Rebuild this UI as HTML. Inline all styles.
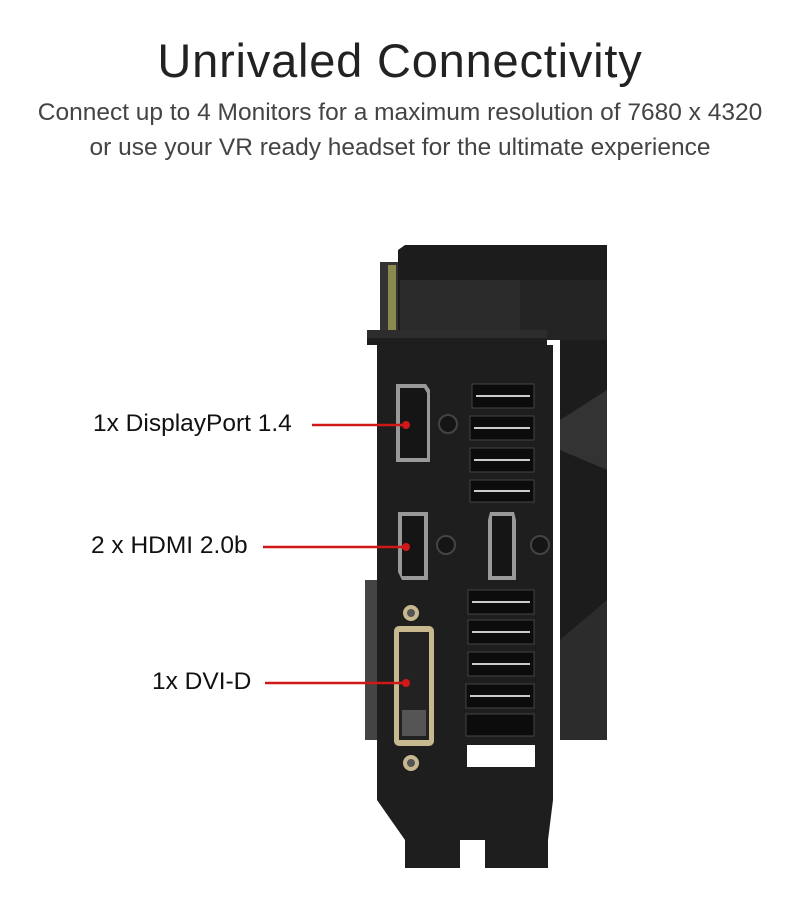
<!DOCTYPE html>
<html><head><style>
body{margin:0;background:#fff;width:800px;height:913px;overflow:hidden;position:relative;font-family:"Liberation Sans",sans-serif}
.a{position:absolute}
.t{left:0;width:800px;text-align:center;white-space:nowrap}
.lbl{font-size:24.5px;color:#111;white-space:nowrap}
</style></head><body>
<div class="a t" style="top:33px;font-size:47px;color:#222;letter-spacing:0.8px">Unrivaled Connectivity</div>
<div class="a t" style="top:99px;font-size:24.5px;color:#444">Connect up to 4 Monitors for a maximum resolution of 7680 x 4320</div>
<div class="a t" style="top:134px;font-size:24.5px;color:#444">or use your VR ready headset for the ultimate experience</div>

<svg class="a" style="left:0;top:0" width="800" height="913">
<polygon points="398,250 405,245 607,245 607,740 560,740 560,330 398,330" fill="#1c1c1c"/>
<rect x="400" y="280" width="120" height="50" fill="#2a2a2a"/>
<rect x="520" y="280" width="87" height="60" fill="#242424"/>
<polygon points="560,420 607,390 607,470 560,450" fill="#333"/>
<polygon points="560,640 607,600 607,740 560,740" fill="#2c2c2c"/>
<rect x="380" y="262" width="18" height="70" fill="#333"/>
<rect x="388" y="265" width="8" height="65" fill="#8a8a50"/>
<rect x="365" y="580" width="12" height="160" fill="#444"/>
<polygon points="367,330 547,330 547,345 553,345 553,800 548,840 548,868 485,868 485,840 460,840 460,868 405,868 405,840 377,800 377,345 367,345" fill="#1e1e1e"/>
<rect x="367" y="330" width="180" height="8" fill="#2d2d2d"/>
<polygon points="396,384 426,384 430,390 430,462 396,462" fill="#999"/>
<polygon points="400,388 424,388 427,393 427,458 400,458" fill="#151515"/>
<polygon points="398,512 428,512 428,580 402,580 398,572" fill="#999"/>
<rect x="402" y="516" width="22" height="60" fill="#151515"/>
<polygon points="490,512 514,512 516,520 516,580 488,580 488,520" fill="#999"/>
<rect x="492" y="516" width="20" height="60" fill="#151515"/>
<circle cx="448" cy="424" r="9" fill="#151515" stroke="#444" stroke-width="2"/>
<circle cx="446" cy="545" r="9" fill="#151515" stroke="#444" stroke-width="2"/>
<circle cx="540" cy="545" r="9" fill="#151515" stroke="#444" stroke-width="2"/>
<circle cx="411" cy="613" r="8" fill="#c8b890"/><circle cx="411" cy="613" r="4" fill="#555"/>
<circle cx="411" cy="763" r="8" fill="#c8b890"/><circle cx="411" cy="763" r="4" fill="#555"/>
<rect x="394" y="626" width="40" height="120" rx="5" fill="#c8b890"/>
<rect x="399" y="632" width="30" height="108" fill="#222"/>
<rect x="402" y="710" width="24" height="26" fill="#555"/>
<g fill="#0c0c0c" stroke="#444">
<rect x="472" y="384" width="62" height="24"/><rect x="470" y="416" width="64" height="24"/>
<rect x="470" y="448" width="64" height="24"/><rect x="470" y="480" width="64" height="22"/>
<rect x="468" y="590" width="66" height="24"/><rect x="468" y="620" width="66" height="24"/>
<rect x="468" y="652" width="66" height="24"/><rect x="466" y="684" width="68" height="24"/>
<rect x="466" y="714" width="68" height="22"/>
</g>
<g stroke="#ccc" stroke-width="2">
<line x1="476" y1="396" x2="530" y2="396"/><line x1="474" y1="428" x2="530" y2="428"/>
<line x1="474" y1="460" x2="530" y2="460"/><line x1="474" y1="491" x2="530" y2="491"/>
<line x1="472" y1="602" x2="530" y2="602"/><line x1="472" y1="632" x2="530" y2="632"/>
<line x1="472" y1="664" x2="530" y2="664"/><line x1="470" y1="696" x2="530" y2="696"/>
</g>
<rect x="467" y="745" width="68" height="22" fill="#fff"/>
<g stroke="#d01818" stroke-width="2.5"><line x1="312" y1="425" x2="406" y2="425"/><line x1="263" y1="547" x2="406" y2="547"/><line x1="265" y1="683" x2="406" y2="683"/></g>
<g fill="#d01818"><circle cx="406" cy="425" r="4"/><circle cx="406" cy="547" r="4"/><circle cx="406" cy="683" r="4"/></g>
</svg>
<div class="a lbl" style="left:93px;top:410px">1x DisplayPort 1.4</div>
<div class="a lbl" style="left:91px;top:532px">2 x HDMI 2.0b</div>
<div class="a lbl" style="left:152px;top:668px">1x DVI-D</div>
</body></html>
